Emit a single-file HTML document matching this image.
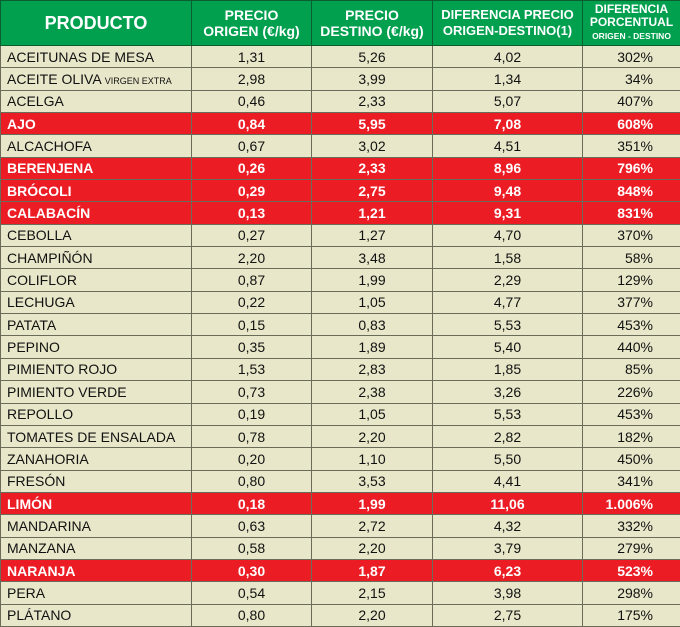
<!DOCTYPE html><html><head><style>
body{margin:0;width:680px;height:626px;overflow:hidden;background:#e9e7c9;font-family:"Liberation Sans",sans-serif}
table{border-collapse:collapse;table-layout:fixed;width:680px}
td,th{border:1px solid #6b6b5a;padding:0;height:21.35px;font-size:14px;color:#111;text-align:center;white-space:nowrap;overflow:hidden}
th{background:#00a04f;color:#fff;height:44px;font-weight:bold;font-size:14px;line-height:16px;border-color:#0b5e2e}
td:first-child{text-align:left;padding-left:6px}
td:last-child{text-align:right;padding-right:27px}
tr.r td{background:#ec1c24;color:#fff;font-weight:bold}
small{font-size:9px}
</style></head><body><table>
<colgroup><col style="width:191px"><col style="width:120px"><col style="width:121px"><col style="width:150px"><col style="width:98px"></colgroup>
<tr><th style="font-size:18px">PRODUCTO</th><th>PRECIO<br>ORIGEN (€/kg)</th><th>PRECIO<br>DESTINO (€/kg)</th><th style="font-size:13px">DIFERENCIA PRECIO<br>ORIGEN-DESTINO(1)</th><th style="font-size:12px;line-height:13px">DIFERENCIA<br>PORCENTUAL<br><span style="font-size:8.5px">ORIGEN - DESTINO</span></th></tr>
<tr><td>ACEITUNAS DE MESA</td><td>1,31</td><td>5,26</td><td>4,02</td><td>302%</td></tr>
<tr><td>ACEITE OLIVA <small>VIRGEN EXTRA</small></td><td>2,98</td><td>3,99</td><td>1,34</td><td>34%</td></tr>
<tr><td>ACELGA</td><td>0,46</td><td>2,33</td><td>5,07</td><td>407%</td></tr>
<tr class="r"><td>AJO</td><td>0,84</td><td>5,95</td><td>7,08</td><td>608%</td></tr>
<tr><td>ALCACHOFA</td><td>0,67</td><td>3,02</td><td>4,51</td><td>351%</td></tr>
<tr class="r"><td>BERENJENA</td><td>0,26</td><td>2,33</td><td>8,96</td><td>796%</td></tr>
<tr class="r"><td>BRÓCOLI</td><td>0,29</td><td>2,75</td><td>9,48</td><td>848%</td></tr>
<tr class="r"><td>CALABACÍN</td><td>0,13</td><td>1,21</td><td>9,31</td><td>831%</td></tr>
<tr><td>CEBOLLA</td><td>0,27</td><td>1,27</td><td>4,70</td><td>370%</td></tr>
<tr><td>CHAMPIÑÓN</td><td>2,20</td><td>3,48</td><td>1,58</td><td>58%</td></tr>
<tr><td>COLIFLOR</td><td>0,87</td><td>1,99</td><td>2,29</td><td>129%</td></tr>
<tr><td>LECHUGA</td><td>0,22</td><td>1,05</td><td>4,77</td><td>377%</td></tr>
<tr><td>PATATA</td><td>0,15</td><td>0,83</td><td>5,53</td><td>453%</td></tr>
<tr><td>PEPINO</td><td>0,35</td><td>1,89</td><td>5,40</td><td>440%</td></tr>
<tr><td>PIMIENTO ROJO</td><td>1,53</td><td>2,83</td><td>1,85</td><td>85%</td></tr>
<tr><td>PIMIENTO VERDE</td><td>0,73</td><td>2,38</td><td>3,26</td><td>226%</td></tr>
<tr><td>REPOLLO</td><td>0,19</td><td>1,05</td><td>5,53</td><td>453%</td></tr>
<tr><td>TOMATES DE ENSALADA</td><td>0,78</td><td>2,20</td><td>2,82</td><td>182%</td></tr>
<tr><td>ZANAHORIA</td><td>0,20</td><td>1,10</td><td>5,50</td><td>450%</td></tr>
<tr><td>FRESÓN</td><td>0,80</td><td>3,53</td><td>4,41</td><td>341%</td></tr>
<tr class="r"><td>LIMÓN</td><td>0,18</td><td>1,99</td><td>11,06</td><td>1.006%</td></tr>
<tr><td>MANDARINA</td><td>0,63</td><td>2,72</td><td>4,32</td><td>332%</td></tr>
<tr><td>MANZANA</td><td>0,58</td><td>2,20</td><td>3,79</td><td>279%</td></tr>
<tr class="r"><td>NARANJA</td><td>0,30</td><td>1,87</td><td>6,23</td><td>523%</td></tr>
<tr><td>PERA</td><td>0,54</td><td>2,15</td><td>3,98</td><td>298%</td></tr>
<tr><td>PLÁTANO</td><td>0,80</td><td>2,20</td><td>2,75</td><td>175%</td></tr>
</table></body></html>
